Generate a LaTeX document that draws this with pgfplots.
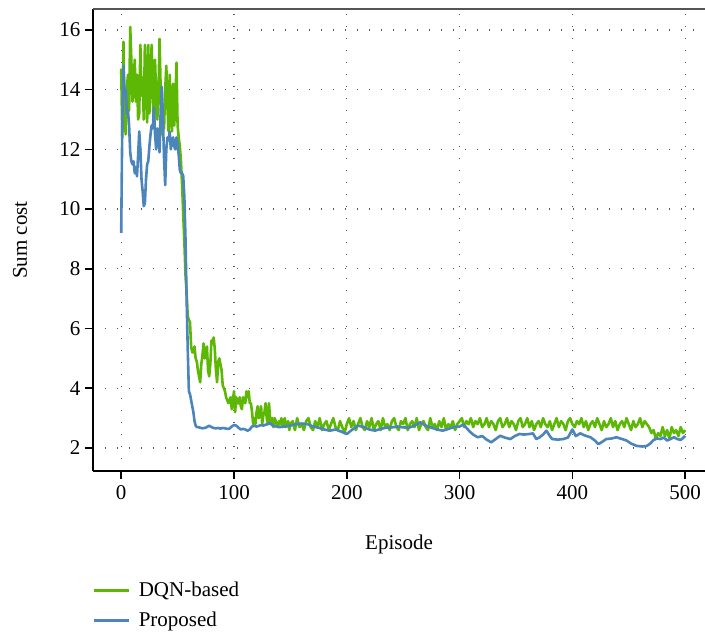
\documentclass[border=0pt]{standalone}
\usepackage{fontspec}
\setmainfont{Liberation Serif}
\usepackage{pgfplots}
\pgfplotsset{compat=1.18}

\definecolor{dqngreen}{RGB}{92,184,4}
\definecolor{propblue}{RGB}{76,133,188}
\definecolor{framegrey}{RGB}{85,85,85}

\begin{document}
\begin{tikzpicture}[font=\fontsize{21}{25}\selectfont]
\begin{axis}[
    name=ax,
    scale only axis,
    width=612pt, height=462pt,
    xmin=-25, xmax=517.55,
    ymin=1.23, ymax=16.70,
    axis x line*=bottom,
    axis y line*=left,
    axis line style={black, line width=1.3pt},
    xtick={0,100,...,500},
    ytick={2,4,...,16},
    tick align=outside,
    major tick length=8pt,
    tick style={black, line width=1.6pt},
    /pgf/number format/assume math mode=true,
    ticklabel style={font=\fontsize{21}{25}\selectfont},
    xticklabel style={yshift=-3pt},
    yticklabel style={xshift=-1pt},
    grid=major,
    major grid style={black!65, line width=1.2pt, dash pattern=on 1.2pt off 10.8pt},
    xlabel={Episode},
    ylabel={Sum cost},
    every axis x label/.style={at={(rel axis cs:0.5,0)}, yshift=-73pt, anchor=center},
    every axis y label/.style={at={(rel axis cs:0,0.5)}, xshift=-73pt, rotate=90, anchor=center},
    legend cell align=left,
    legend style={at={(rel axis cs:0,0)}, anchor=north west, yshift=-109pt,
        draw=none, fill=none, inner sep=0pt, row sep=10pt,
        font=\fontsize{21}{25}\selectfont,
        /tikz/every odd column/.append style={column sep=6pt}},
    legend image code/.code={\draw[#1, line width=2.6pt] (0pt,0pt) -- (35pt,0pt);},
    line join=round,
]
\addplot[dqngreen, line width=2.6pt] coordinates {
(0,14.7)(1,12.4)(2,15.6)(3,13.0)(4,12.5)(5,14.0)(6,14.5)(7,13.3)(8,16.1)(9,15.0)
(10,13.6)(11,14.2)(12,15.0)(13,13.6)(14,14.5)(15,13.0)(16,13.2)(17,15.5)(18,13.8)(19,14.4)
(20,13.0)(21,15.5)(22,14.3)(23,12.9)(24,15.5)(25,13.2)(26,14.5)(27,15.5)(28,13.7)(29,12.9)
(30,15.0)(31,13.8)(32,13.0)(33,13.8)(34,15.7)(35,14.0)(36,12.5)(37,13.5)(38,12.7)(39,14.0)
(40,14.8)(41,13.4)(42,12.6)(43,14.5)(44,13.0)(45,12.6)(46,14.2)(47,12.8)(48,13.5)(49,14.9)
(50,12.8)(51,12.4)(52,12.1)(53,11.6)(54,10.8)(55,9.8)(56,8.9)(57,7.8)(58,7.2)(59,6.4)
(60,6.3)(61,6.2)(62,5.4)(63,5.2)(64,5.2)(65,5.4)(66,5.0)(67,4.9)(68,4.6)(69,4.4)
(70,4.2)(71,4.8)(72,5.1)(73,5.5)(74,5.0)(75,5.2)(76,5.4)(77,4.6)(78,4.4)(79,4.8)
(80,5.6)(81,5.5)(82,5.7)(83,5.3)(84,4.6)(85,4.2)(86,4.9)(87,5.0)(88,4.8)(89,4.6)
(90,4.1)(91,4.0)(92,3.9)(93,3.7)(94,3.6)(95,3.5)(96,3.6)(97,3.7)(98,3.3)(99,3.6)
(100,3.9)(101,3.2)(102,3.7)(103,3.5)(104,3.5)(105,3.7)(106,3.4)(107,3.3)(108,3.7)(109,3.6)
(110,3.5)(111,3.9)(112,3.7)(113,3.9)(114,3.5)(115,3.5)(116,3.2)(117,2.8)(118,3.0)(119,2.8)
(120,3.2)(121,3.4)(122,3.0)(123,3.1)(124,3.4)(125,2.8)(126,3.1)(127,3.2)(128,3.5)(129,3.0)
(130,2.8)(131,3.5)(132,3.0)(133,2.8)(134,3.0)(135,2.7)(136,3.0)(137,2.9)(138,2.8)(139,2.7)
(140,2.9)(141,2.8)(142,3.0)(143,2.7)(144,2.9)(145,3.0)(146,2.7)(147,2.8)(148,2.9)(149,2.6)
(150,2.8)(152,2.9)(154,2.6)(156,3.0)(158,2.7)(160,2.8)(162,2.6)(164,2.9)(166,3.0)(168,2.7)
(170,2.6)(172,2.9)(174,2.7)(176,3.0)(178,2.6)(180,2.8)(182,2.9)(184,2.6)(186,2.8)(188,3.0)
(190,2.7)(192,2.6)(194,2.9)(196,2.7)(198,2.5)(200,2.8)(202,3.0)(204,2.7)(206,2.9)(208,2.6)
(210,2.8)(212,3.0)(214,2.7)(216,2.6)(218,2.9)(220,2.7)(222,3.0)(224,2.6)(226,2.8)(228,2.9)
(230,2.6)(232,3.0)(234,2.7)(236,2.8)(238,2.6)(240,2.9)(242,3.0)(244,2.7)(246,2.6)(248,2.9)
(250,2.8)(252,3.0)(254,2.6)(256,2.8)(258,2.9)(260,2.7)(262,3.0)(264,2.6)(266,2.8)(268,2.9)
(270,2.7)(272,2.6)(274,3.0)(276,2.7)(278,2.8)(280,2.6)(282,2.9)(284,2.7)(286,3.0)(288,2.6)
(290,2.8)(292,2.7)(294,2.9)(296,2.6)(298,2.8)(300,2.9)(302,3.0)(304,2.7)(306,2.9)(308,2.8)
(310,3.0)(312,2.7)(314,2.9)(316,2.8)(318,3.0)(320,2.7)(322,2.8)(324,3.0)(326,2.7)(328,2.9)
(330,2.8)(332,2.6)(334,2.9)(336,3.0)(338,2.7)(340,2.8)(342,3.0)(344,2.7)(346,2.9)(348,2.8)
(350,2.6)(352,2.9)(354,3.0)(356,2.7)(358,2.8)(360,3.0)(362,2.7)(364,2.9)(366,2.6)(368,2.8)
(370,2.9)(372,2.7)(374,3.0)(376,2.8)(378,2.7)(380,2.9)(382,2.6)(384,2.8)(386,3.0)(388,2.7)
(390,2.9)(392,2.8)(394,2.6)(396,2.9)(398,3.0)(400,2.8)(402,2.7)(404,2.9)(406,2.8)(408,3.0)
(410,2.7)(412,2.9)(414,2.6)(416,2.8)(418,2.9)(420,2.7)(422,3.0)(424,2.8)(426,2.6)(428,2.9)
(430,2.7)(432,2.8)(434,3.0)(436,2.7)(438,2.9)(440,2.6)(442,2.8)(444,2.9)(446,2.7)(448,3.0)
(450,2.8)(452,2.6)(454,2.9)(456,2.7)(458,2.8)(460,3.0)(462,2.7)(464,2.9)(466,2.8)(468,2.7)
(470,2.5)(472,2.6)(474,2.3)(476,2.5)(478,2.4)(480,2.7)(482,2.4)(484,2.6)(486,2.3)(488,2.7)
(490,2.5)(492,2.6)(494,2.4)(496,2.7)(498,2.5)(500,2.6)
};
\addlegendentry{DQN-based}

\addplot[propblue, line width=2.6pt] coordinates {
(0,9.2)(1,13.0)(2,14.8)(3,13.8)(4,14.0)(5,13.2)(6,13.3)(7,12.8)(8,11.9)(9,11.6)
(10,11.5)(11,11.6)(12,11.2)(13,11.4)(14,11.1)(15,11.8)(16,12.6)(17,12.0)(18,11.0)(19,10.6)
(20,10.1)(21,10.2)(22,11.0)(23,11.5)(24,11.6)(25,12.1)(26,12.5)(27,12.8)(28,12.7)(29,13.4)
(30,12.5)(31,12.0)(32,12.7)(33,12.6)(34,11.9)(35,13.3)(36,14.1)(37,13.0)(38,11.7)(39,10.8)
(40,12.0)(41,12.4)(42,12.3)(43,12.6)(44,12.0)(45,12.3)(46,12.4)(47,12.1)(48,12.0)(49,12.4)
(50,12.2)(51,11.8)(52,11.3)(53,11.2)(54,11.2)(55,11.1)(56,10.4)(57,9.0)(58,7.0)(59,5.3)
(60,3.9)(61,3.8)(62,3.6)(63,3.4)(64,3.2)(65,2.9)(66,2.75)(67,2.7)(68,2.7)(70,2.68)
(72,2.66)(74,2.67)(76,2.7)(78,2.75)(80,2.7)(82,2.67)(84,2.66)(86,2.67)(88,2.65)(90,2.67)
(92,2.66)(94,2.64)(96,2.65)(98,2.72)(100,2.77)(102,2.75)(104,2.68)(106,2.62)(108,2.64)(110,2.62)
(112,2.58)(114,2.62)(116,2.72)(118,2.74)(120,2.72)(122,2.74)(124,2.77)(126,2.75)(128,2.78)(130,2.8)
(132,2.83)(134,2.76)(136,2.73)(138,2.72)(140,2.7)(145,2.72)(150,2.75)(155,2.8)(160,2.82)(165,2.8)
(170,2.72)(175,2.68)(180,2.62)(185,2.58)(190,2.62)(195,2.55)(200,2.47)(205,2.62)(210,2.75)(215,2.7)
(220,2.62)(225,2.58)(230,2.64)(235,2.68)(240,2.69)(245,2.72)(250,2.69)(255,2.68)(260,2.75)(265,2.86)
(270,2.75)(275,2.68)(280,2.62)(285,2.58)(290,2.64)(295,2.7)(300,2.72)(303,2.78)(306,2.68)(309,2.55)
(312,2.45)(316,2.36)(320,2.4)(324,2.28)(328,2.19)(332,2.3)(336,2.41)(340,2.35)(345,2.3)(349,2.4)
(353,2.47)(357,2.45)(362,2.47)(365,2.49)(368,2.3)(371,2.36)(374,2.45)(377,2.58)(380,2.4)(382,2.3)
(387,2.28)(392,2.3)(396,2.35)(400,2.62)(403,2.4)(407,2.49)(411,2.42)(416,2.36)(420,2.25)(423,2.13)
(427,2.22)(430,2.3)(435,2.32)(439,2.36)(444,2.3)(448,2.25)(452,2.15)(457,2.07)(462,2.05)(466,2.07)
(469,2.15)(472,2.27)(475,2.32)(478,2.3)(481,2.35)(484,2.25)(487,2.3)(490,2.36)(493,2.3)(496,2.27)
(498,2.33)(500,2.41)
};
\addlegendentry{Proposed}
\end{axis}
% grey top frame line, no right-hand line
\draw[framegrey, line width=2pt] (ax.north west) -- (ax.north east);
\pgfresetboundingbox
\path[use as bounding box] ([xshift=-93pt,yshift=-164pt]ax.south west) rectangle ([yshift=9pt]ax.north east);
\end{tikzpicture}
\end{document}
